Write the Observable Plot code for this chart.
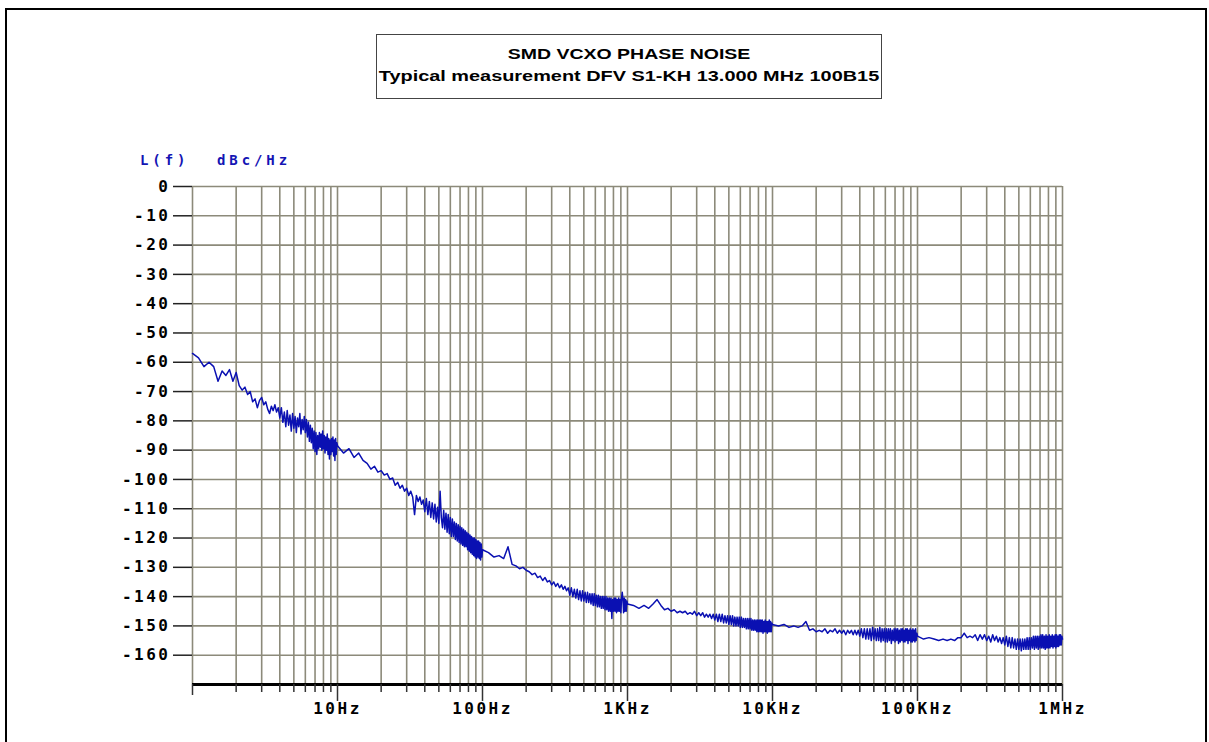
<!DOCTYPE html>
<html>
<head>
<meta charset="utf-8">
<script src="https://cdn.jsdelivr.net/npm/d3@7"></script>
<script src="https://cdn.jsdelivr.net/npm/@observablehq/plot@0.6"></script>
<style>
  html, body { margin: 0; padding: 0; background: white; }
  #wrap { position: relative; width: 1209px; height: 742px; overflow: hidden; }
  #wrap > svg { position: absolute; left: 0; top: 0; }
  #overlay { pointer-events: none; }
  g[aria-label="y-axis tick label"] text,
  g[aria-label="x-axis tick label"] text { letter-spacing: 2.5px; }
</style>
</head>
<body>
<div id="wrap"></div>
<script>
// ---- data ----
// The analyser sweeps each decade linearly: f = start * (1 + step * i), i = 0..89
const decadeStarts = [1, 10, 100, 1000, 10000, 100000];   // Hz
const sweepStep = 0.1;
const seg1Hz = [-57,-58.5,-61.5,-60,-61.5,-66.5,-63,-64.5,-62.5,-66.5,
  -63.5,-68,-69.5,-68.5,-71,-70,-73.5,-72.5,-75.5,-73,
  -72,-74.5,-73.5,-76,-77.5,-75,-76.5,-74.5,-77,-75.5,
  -79,-75.5,-80.5,-77,-82,-76.5,-81.5,-78,-83.5,-77.5,
  -82.5,-78.5,-84,-79,-82,-77.5,-84.5,-79.5,-83,-78.5,
  -84,-79.5,-85.5,-80.5,-87,-81.5,-87.5,-82.5,-89.5,-83.5,
  -90.5,-84,-91.5,-85,-89.5,-84,-89,-84.5,-90,-83.5,
  -89.5,-85,-91,-85.5,-90,-84.5,-91.5,-86,-93,-86.5,
  -91.5,-86,-90.5,-85.5,-92,-86.5,-93.5,-86,-91.5,-87.5];
const seg10Hz = [-88.5,-91,-89.5,-92.5,-91,-93.5,-94.5,-96.5,-95.5,-97.5,
  -97,-98.5,-98,-100,-99.5,-102,-101,-103,-102,-104,
  -103,-105.5,-104,-106,-112,-105.5,-107.5,-106,-108.5,-107,
  -111,-106.5,-112,-107.5,-113,-108,-113.5,-108.5,-114.5,-109.5,
  -115,-104,-113,-116.5,-110.5,-117,-111.5,-118,-112,-118.5,
  -113,-119.5,-113.5,-119.5,-114.5,-120.5,-115,-121,-115.5,-121.5,
  -116,-122,-116.5,-122.5,-117,-123,-117.5,-123,-118,-124,
  -118.5,-124.5,-119,-125,-119.5,-125.5,-120,-126,-120,-126.5,
  -120.5,-127,-121,-126.5,-121,-127,-121.5,-127.5,-122,-126.5];
const seg100Hz = [-124,-125,-126.5,-126,-127,-123,-129,-129.5,-130.5,-130,
  -131,-131.5,-132.5,-132,-133.5,-133,-134.5,-133.5,-135,-134.5,
  -136,-135,-136.5,-135.5,-137,-136,-137.5,-136.5,-138,-137,
  -139.5,-137,-140,-137.5,-140.5,-137.5,-141,-138,-141.5,-138,
  -141.5,-138.5,-142,-138.5,-142,-139,-142.5,-139,-143,-139,
  -143,-139.5,-143.5,-139.5,-143.5,-140,-144,-140,-144,-140,
  -144.5,-140,-144.5,-140.5,-145,-140.5,-145,-140.5,-147.5,-141,
  -145,-140.5,-145,-140.5,-145.5,-141,-145,-140.5,-145,-141,
  -145.5,-140.5,-138.5,-141,-145.5,-140.5,-145,-141,-145,-141.5];
const seg1kHz = [-142.5,-143,-144,-143,-144,-142.5,-141,-143,-144.5,-144,
  -145,-144.5,-145.5,-145,-145.5,-145,-146,-145.5,-146,-145,
  -146.5,-145.5,-146.5,-145.5,-147,-146,-147,-146,-147.5,-146,
  -148,-146,-148.5,-146,-148.5,-146,-149,-146.5,-149,-146.5,
  -149.5,-146.5,-149.5,-146.5,-150,-147,-150,-147,-150,-147,
  -150.5,-147,-150.5,-147.5,-150.5,-147.5,-151,-147.5,-151,-147.5,
  -151,-147.5,-151.5,-148,-151.5,-148,-151.5,-148,-152,-148,
  -152,-148,-152,-148,-152,-148,-152.5,-148.5,-152,-148,
  -152,-148.5,-152.5,-148.5,-152,-148,-152,-148.5,-152,-149];
const seg10kHz = [-149.5,-150,-149.5,-150.5,-150,-150.5,-150,-148.5,-151.5,-151,
  -152,-151.5,-152,-151,-152.5,-151.5,-152,-151,-152.5,-151.5,
  -152.5,-151.5,-153,-151.5,-152.5,-151.5,-153,-151.5,-153,-151.5,
  -153.5,-151,-154,-151,-154.5,-151,-154.5,-151,-155,-150.5,
  -154.5,-151,-155,-151,-155,-150.5,-155.5,-151,-155,-151,
  -155.5,-151,-155.5,-151,-155,-151,-156,-151.5,-155,-151,
  -155.5,-151,-155,-151,-156,-151.5,-155.5,-151,-155,-151,
  -155.5,-151.5,-155.5,-151,-155,-151,-156,-151.5,-155,-151,
  -155.5,-151.5,-155.5,-151,-155,-151.5,-155.5,-151,-155,-152.5];
const seg100kHz = [-153.5,-154.5,-154,-154.5,-155,-154.5,-155,-154.5,-155,-154,
  -154,-152.5,-154,-153.5,-154,-153,-155,-153,-154.5,-153,
  -155,-153.5,-155.5,-153,-155,-153.5,-155.5,-154,-156,-154,
  -156.5,-153.5,-157,-154,-157.5,-154,-157.5,-154.5,-158,-154.5,
  -158,-154.5,-158.5,-154.5,-158,-154.5,-158,-154,-158,-154,
  -158,-154,-157.5,-153.5,-158,-153.5,-157.5,-153.5,-158,-153.5,
  -157.5,-153,-157.5,-153,-157.5,-153.5,-158,-153,-157.5,-153.5,
  -157.5,-153,-157.5,-153.5,-157,-153,-157.5,-153.5,-157,-153,
  -157.5,-153,-157,-153.5,-157,-153,-156.5,-153,-156.5,-153.5];
const endFreq = 1000000, endValue = -154.5;

const yTicks = [0,-10,-20,-30,-40,-50,-60,-70,-80,-90,-100,-110,-120,-130,-140,-150,-160];
const gridMultipliers = [1,2,3,4,5,6,7,8,9];
const decadeTicks = [10, 100, 1000, 10000, 100000, 1000000];
const decadeLabels = ["10Hz", "100Hz", "1KHz", "10KHz", "100KHz", "1MHz"];

// ---- build table ----
const segments = [seg1Hz, seg10Hz, seg100Hz, seg1kHz, seg10kHz, seg100kHz];
const data = segments.flatMap((vals, d) => vals.map((v, i) => ({f: decadeStarts[d] * (1 + sweepStep * i), db: v})));
data.push({f: endFreq, db: endValue});

const gridFreqs = decadeStarts.flatMap(s => gridMultipliers.map(m => s * m)).concat([endFreq]);
const minorFreqs = gridFreqs.filter(f => !decadeTicks.includes(f) && f !== 1);

const gridColor = "#8c8a7a";
const mono = "DejaVu Sans Mono";

const chart = Plot.plot({
  width: 1209,
  height: 742,
  marginLeft: 192,
  marginRight: 147,
  marginTop: 186,
  marginBottom: 58,
  style: {background: "transparent", overflow: "visible"},
  x: {type: "log", domain: [1, 1000000], axis: null},
  y: {domain: [-170, 0], axis: null},
  marks: [
    Plot.ruleX(gridFreqs, {stroke: gridColor, strokeWidth: 1.6}),
    Plot.ruleY(yTicks, {stroke: gridColor, strokeWidth: 1.6}),
    Plot.line(data, {x: "f", y: "db", stroke: "#0a10b2", strokeWidth: 1.5}),
    Plot.ruleY([-170], {stroke: "black", strokeWidth: 3}),
    Plot.axisY({ticks: yTicks, tickSize: 19, tickPadding: 3, stroke: "#222", strokeWidth: 1.5,
      tickFormat: d => d === 0 ? "0" : "-" + Math.abs(d), fontFamily: mono, fontWeight: "bold", fontSize: 16, label: null}),
    Plot.axisX({ticks: minorFreqs, tickSize: 8, stroke: "#333", strokeWidth: 1.5, tickFormat: () => "", label: null}),
    Plot.axisX({ticks: [1], tickSize: 11, stroke: "#333", strokeWidth: 1.5, tickFormat: () => "", label: null}),
    Plot.axisX({ticks: decadeTicks, tickSize: 17, tickPadding: 1, stroke: "#333", strokeWidth: 1.5,
      tickFormat: d => decadeLabels[decadeTicks.indexOf(d)], fontFamily: mono, fontWeight: "bold", fontSize: 16, label: null})
  ]
});
document.getElementById("wrap").appendChild(chart);

// ---- overlay: page frame, title box, y-unit label ----
const ns = "http://www.w3.org/2000/svg";
const ov = document.createElementNS(ns, "svg");
ov.setAttribute("id", "overlay");
ov.setAttribute("width", 1209);
ov.setAttribute("height", 742);
ov.innerHTML = `
  <path d="M6,760 V9 H1206 V760" fill="none" stroke="black" stroke-width="2"/>
  <rect x="376.5" y="34.5" width="505" height="64" fill="white" stroke="#444" stroke-width="1"/>
  <text x="629" y="59" text-anchor="middle" font-family="Liberation Sans, Arial, sans-serif" font-weight="bold" font-size="15.5"
        transform="translate(629 0) scale(1.258 1) translate(-629 0)">SMD VCXO PHASE NOISE</text>
  <text x="629" y="81" text-anchor="middle" font-family="Liberation Sans, Arial, sans-serif" font-weight="bold" font-size="15.5"
        transform="translate(629 0) scale(1.284 1) translate(-629 0)">Typical measurement DFV S1-KH 13.000 MHz 100B15</text>
  <text x="140" y="165" fill="#1414b4" font-family="${mono}" font-weight="bold" font-size="14" style="letter-spacing:3.9px">L(f)</text>
  <text x="217" y="165" fill="#1414b4" font-family="${mono}" font-weight="bold" font-size="14" style="letter-spacing:3.9px">dBc/Hz</text>
`;
document.getElementById("wrap").appendChild(ov);
</script>
</body>
</html>
